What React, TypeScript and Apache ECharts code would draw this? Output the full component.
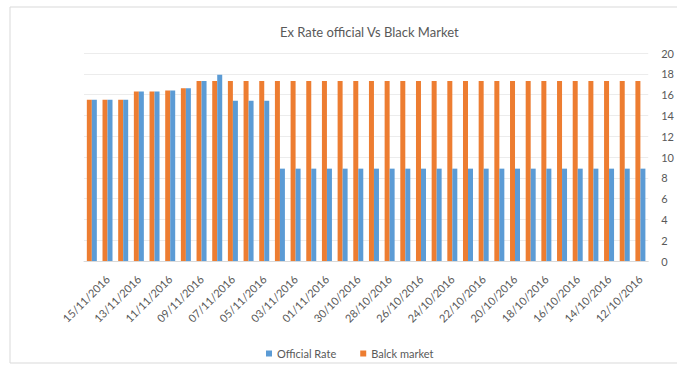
import React, { useEffect, useRef } from "react";
import * as echarts from "echarts";

const categories: string[] = [
  "16/11/2016", "15/11/2016", "14/11/2016", "13/11/2016", "12/11/2016", "11/11/2016",
  "10/11/2016", "09/11/2016", "08/11/2016", "07/11/2016", "06/11/2016", "05/11/2016",
  "04/11/2016", "03/11/2016", "02/11/2016", "01/11/2016", "31/10/2016", "30/10/2016",
  "29/10/2016", "28/10/2016", "27/10/2016", "26/10/2016", "25/10/2016", "24/10/2016",
  "23/10/2016", "22/10/2016", "21/10/2016", "20/10/2016", "19/10/2016", "18/10/2016",
  "17/10/2016", "16/10/2016", "15/10/2016", "14/10/2016", "13/10/2016", "12/10/2016",
];

const officialRate: number[] = [
  15.5, 15.5, 15.5, 16.3, 16.3, 16.4, 16.6, 17.3, 17.9, 15.4, 15.4, 15.4,
  8.88, 8.88, 8.88, 8.88, 8.88, 8.88, 8.88, 8.88, 8.88, 8.88, 8.88, 8.88,
  8.88, 8.88, 8.88, 8.88, 8.88, 8.88, 8.88, 8.88, 8.88, 8.88, 8.88, 8.88,
];

const blackMarket: number[] = [
  15.5, 15.5, 15.5, 16.3, 16.3, 16.4, 16.6, 17.3, 17.3, 17.3, 17.3, 17.3,
  17.3, 17.3, 17.3, 17.3, 17.3, 17.3, 17.3, 17.3, 17.3, 17.3, 17.3, 17.3,
  17.3, 17.3, 17.3, 17.3, 17.3, 17.3, 17.3, 17.3, 17.3, 17.3, 17.3, 17.3,
];

const seriesNames: string[] = ["Official Rate", "Balck market"];

const FONT = "Lato, 'Liberation Sans', sans-serif";
const TEXT = "#595959";

export default function App() {
  const ref = useRef<HTMLDivElement>(null);

  useEffect(() => {
    if (!ref.current) return;
    const chart = echarts.init(ref.current, undefined, { renderer: "svg" });
    chart.setOption({
      animation: false,
      backgroundColor: "#ffffff",
      title: {
        text: "Ex Rate official Vs Black Market",
        left: 275,
        top: 20,
        textStyle: { fontFamily: FONT, fontSize: 13, fontWeight: "normal", color: TEXT },
      },
      legend: {
        data: seriesNames,
        left: 261,
        top: 343,
        itemWidth: 6,
        itemGap: 24,
        itemHeight: 6,
        icon: "rect",
        textStyle: { fontFamily: FONT, fontSize: 11, color: TEXT },
      },
      graphic: [
        {
          type: "rect",
          shape: { x: 10, y: 7, width: 700, height: 356 },
          style: { fill: "none", stroke: "#d9d9d9", lineWidth: 1 },
          silent: true,
        },
      ],
      grid: { left: 84, right: 26, top: 53, bottom: 109 },
      xAxis: {
        type: "category",
        data: categories,
        axisLine: { show: true, lineStyle: { color: "#d9d9d9" } },
        axisTick: { show: false },
        axisLabel: {
          interval: (index: number) => index % 2 === 1,
          rotate: 45,
          margin: 16,
          fontFamily: FONT,
          fontSize: 11,
          color: TEXT,
        },
      },
      yAxis: {
        type: "value",
        position: "right",
        min: 0,
        max: 20,
        interval: 2,
        axisLine: { show: false },
        axisTick: { show: false },
        axisLabel: { fontFamily: FONT, fontSize: 11, color: TEXT, margin: 13 },
        splitLine: { lineStyle: { color: "#ececec" } },
      },
      series: [
        {
          name: seriesNames[1],
          type: "bar",
          data: blackMarket,
          barWidth: 5,
          barGap: "0%",
          itemStyle: { color: "#ED7D31" },
        },
        {
          name: seriesNames[0],
          type: "bar",
          data: officialRate,
          barWidth: 5,
          barGap: "0%",
          itemStyle: { color: "#5B9BD5" },
        },
      ],
    });
    return () => chart.dispose();
  }, []);

  return (
    <div
      ref={ref}
      style={{ position: "fixed", left: 0, top: 0, width: 677, height: 370 }}
    />
  );
}
